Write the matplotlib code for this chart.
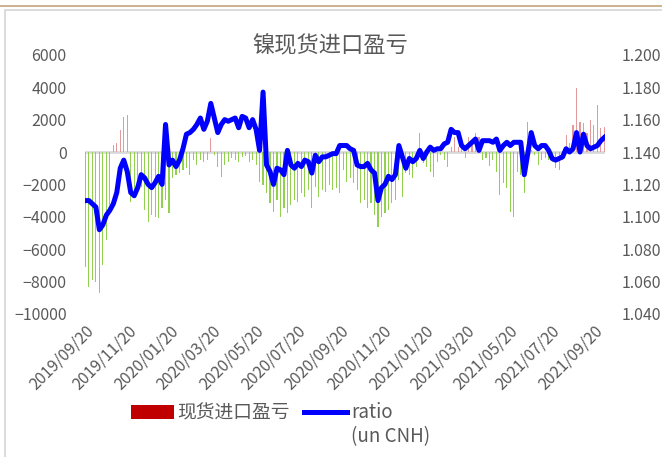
import matplotlib
matplotlib.use('Agg')
import matplotlib.pyplot as plt
from matplotlib.patches import Patch, Rectangle
from matplotlib.lines import Line2D
import pandas as pd

plt.rcParams['font.family'] = ['Noto Sans CJK SC', 'DejaVu Sans']

# 现货进口盈亏 (left axis), sampled every 5 days from 2019-09-20
spread = [
    -7100, -8330, -7900, -8020, -8700, -6970, -5430, -3270, 430, 555,
    1360, 2160, 2280, -3085, -2780, -2040, -2160, -3580, -4320, -3890,
    -4010, -4070, -3460, -2960, -3760, -1600, -1420, -1300, -1110, -990,
    -1420, -490, -800, -490, -620, -490, 860, -185, -925, -1540,
    -800, -620, -370, -490, -620, -310, -250, -620, -490, -800,
    -1850, -2040, -2530, -3150, -3700, -2960, -4010, -3460, -3760, -3270,
    -2960, -3085, -2530, -2780, -2345, -3460, -2160, -2780, -2345, -2470,
    -2040, -2345, -2220, -2530, -1110, -1850, -1600, -1910, -2345, -3150,
    -2960, -3460, -3150, -3890, -4630, -4010, -3760, -3580, -3150, -2960,
    -1730, -2780, -1300, -1420, -1600, -925, 1170, -680, -925, -1230,
    -1540, -620, -185, -490, -925, 310, 925, 310, 430, -370,
    925, 555, 1170, 925, -490, -370, -860, -490, -1230, -2650,
    -1910, -2220, -3700, -4010, -1230, -1420, -2530, 1850, 120, -185,
    -800, -490, -370, -490, -620, -990, -1110, -490, 1050, 555,
    1670, 3950, 1850, 1790, 1170, 1975, 1670, 2900, 1480, 1540,
]

# ratio (un CNH) (right axis)
ratio = [
    1.110, 1.110, 1.108, 1.106, 1.092, 1.095, 1.101, 1.104, 1.108, 1.115,
    1.130, 1.135, 1.128, 1.115, 1.113, 1.118, 1.126, 1.124, 1.120, 1.118,
    1.121, 1.125, 1.120, 1.157, 1.132, 1.135, 1.131, 1.135, 1.142, 1.151,
    1.152, 1.154, 1.157, 1.161, 1.154, 1.159, 1.170, 1.161, 1.152, 1.157,
    1.160, 1.159, 1.160, 1.161, 1.155, 1.162, 1.161, 1.155, 1.160, 1.154,
    1.141, 1.177, 1.132, 1.128, 1.120, 1.130, 1.129, 1.126, 1.141, 1.132,
    1.130, 1.133, 1.131, 1.135, 1.134, 1.127, 1.138, 1.134, 1.137, 1.137,
    1.138, 1.139, 1.139, 1.144, 1.144, 1.144, 1.142, 1.141, 1.132, 1.131,
    1.131, 1.133, 1.129, 1.127, 1.110, 1.118, 1.120, 1.125, 1.123, 1.126,
    1.144, 1.137, 1.130, 1.136, 1.134, 1.136, 1.141, 1.136, 1.140, 1.143,
    1.141, 1.142, 1.142, 1.145, 1.146, 1.154, 1.152, 1.152, 1.144, 1.142,
    1.144, 1.146, 1.148, 1.141, 1.147, 1.147, 1.147, 1.146, 1.148, 1.141,
    1.144, 1.146, 1.144, 1.146, 1.146, 1.146, 1.126, 1.139, 1.152, 1.144,
    1.142, 1.144, 1.144, 1.141, 1.136, 1.135, 1.136, 1.137, 1.142, 1.140,
    1.142, 1.152, 1.140, 1.151, 1.144, 1.142, 1.143, 1.144, 1.147, 1.149,
]

dates = pd.date_range('2019-09-20', periods=len(ratio), freq='5D')
tick_dates = pd.date_range('2019-09-20', '2021-09-20', freq=pd.DateOffset(months=2))

grey = '#595959'
neg_color = '#92D050'
pos_color = '#E39A9A'

fig = plt.figure(figsize=(6.62, 4.57), dpi=100)
ax = fig.add_axes([0.128, 0.313, 0.786, 0.567])

bar_colors = [pos_color if v >= 0 else neg_color for v in spread]
ax.bar(dates, spread, width=1.6, color=bar_colors, linewidth=0)
ax.axhline(0, color='#D9D9D9', lw=2, zorder=0.5)
ax.set_ylim(-10000, 6000)
ax.set_yticks(range(-10000, 6001, 2000))
ax.set_xlim(pd.Timestamp('2019-09-19'), pd.Timestamp('2021-10-05'))
ax.set_xticks(tick_dates)
ax.set_xticklabels([d.strftime('%Y/%m/%d') for d in tick_dates],
                   rotation=45, ha='right', rotation_mode='anchor')
ax.tick_params(axis='y', length=0, colors=grey, labelsize=11.5, pad=13)
ax.tick_params(axis='x', length=0, colors=grey, labelsize=11.5, pad=6)

ax2 = ax.twinx()
ax2.plot(dates, ratio, color='#0000FF', lw=3.6, solid_joinstyle='round')
ax2.set_ylim(1.04, 1.20)
ax2.set_yticks([1.04 + 0.02 * i for i in range(9)])
ax2.set_yticklabels(['%.3f' % (1.04 + 0.02 * i) for i in range(9)])
ax2.tick_params(axis='y', length=0, colors=grey, labelsize=11.5, pad=12)

for a in (ax, ax2):
    for s in a.spines.values():
        s.set_visible(False)

fig.text(0.4985, 1 - 45 / 457, '镍现货进口盈亏', ha='center', va='center',
         fontsize=16, color=grey)

handles = [Patch(facecolor='#C00000', edgecolor='none'),
           Line2D([0], [0], color='#0000FF', lw=3.6)]
leg = fig.legend(handles, ['现货进口盈亏', 'ratio'], ncol=2,
                 loc='center left', bbox_to_anchor=(0.172, 1 - 413 / 457),
                 frameon=False, fontsize=13.5, labelcolor=grey,
                 handlelength=2.3, columnspacing=0.75, handletextpad=0.2)

# second line of the ratio label, under "ratio"
fig.canvas.draw()
bb = leg.get_texts()[1].get_window_extent().transformed(fig.transFigure.inverted())
fig.text(bb.x0, 1 - 437 / 457, '(un CNH)', ha='left', va='center',
         fontsize=13.5, color=grey)

# frame of the screenshot
fig.add_artist(Rectangle((5 / 662, -0.05), 1.2, 1 - 10 / 457 + 0.05,
                         transform=fig.transFigure, fill=False,
                         edgecolor='#D6D6D6', lw=1.2))
fig.add_artist(Line2D([0, 1], [1 - 6 / 457] * 2, transform=fig.transFigure,
                      color='#C4A67A', lw=1.2))

fig.savefig('out.png', dpi=100)
